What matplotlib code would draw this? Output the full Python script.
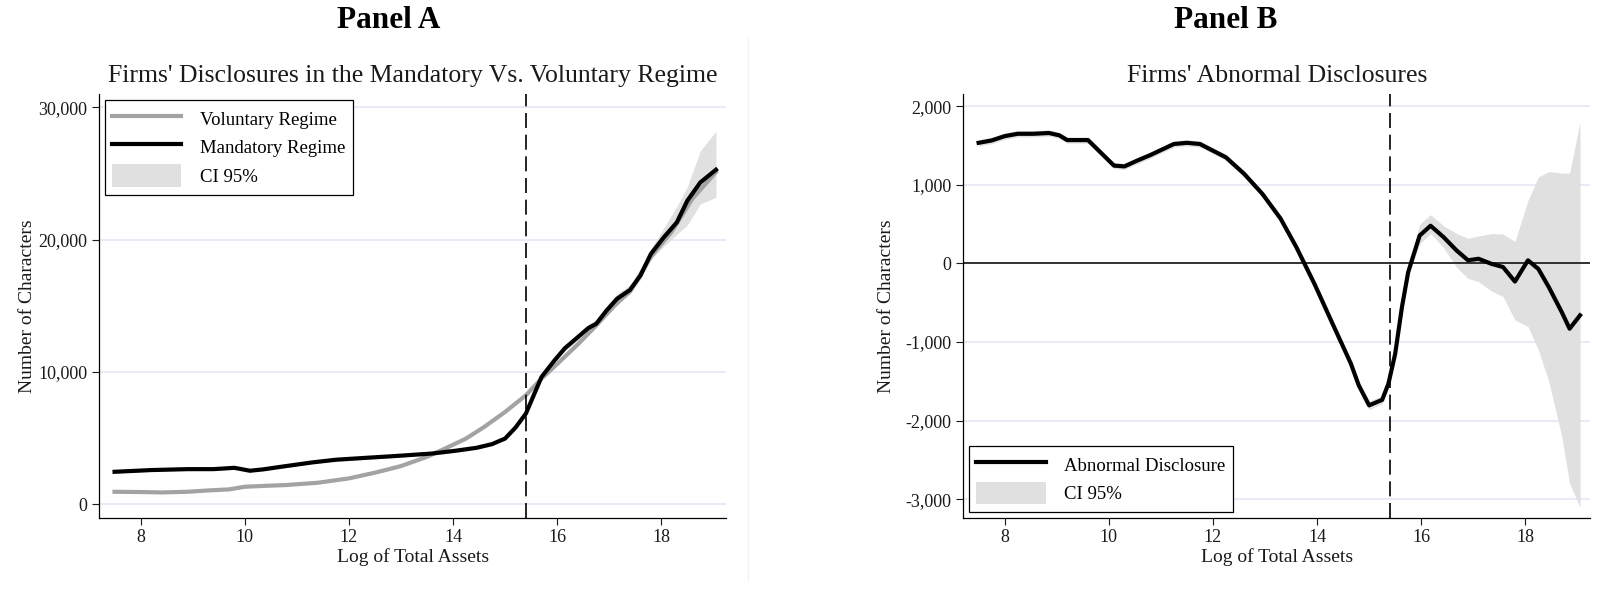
import matplotlib
matplotlib.use("Agg")
import matplotlib.pyplot as plt
from matplotlib.ticker import FuncFormatter
from matplotlib.lines import Line2D
from matplotlib.patches import Patch

plt.rcParams['font.family'] = ['Liberation Serif', 'DejaVu Serif']

# ---------------- Panel A data ----------------
vol_x = [7.5, 8.0, 8.4, 8.9, 9.3, 9.7, 10.0, 10.4, 10.8, 11.4, 12.0, 12.5, 13.0, 13.5,
         13.85, 14.25, 14.6, 15.0, 15.4, 15.7, 16.0, 16.4, 16.7, 17.1, 17.4, 17.8, 18.2,
         18.6, 19.05]
vol_y = [950, 930, 900, 950, 1050, 1130, 1330, 1400, 1460, 1630, 1960, 2390, 2890, 3590,
         4220, 4970, 5850, 6980, 8240, 9500, 10600, 12100, 13300, 15000, 16100, 18700, 20600,
         23100, 25100]

man_x = [7.5, 8.2, 8.9, 9.4, 9.8, 10.1, 10.35, 10.7, 11.3, 11.75, 12.35, 12.85, 13.6, 14.05,
         14.45, 14.75, 15.0, 15.2, 15.4, 15.55, 15.7, 15.95, 16.15, 16.4, 16.6, 16.75, 16.95,
         17.15, 17.4, 17.6, 17.8, 18.05, 18.3, 18.5, 18.75, 19.05]
man_y = [2460, 2590, 2660, 2660, 2760, 2540, 2640, 2840, 3170, 3370, 3520, 3640, 3840, 4050,
         4270, 4550, 4970, 5800, 6860, 8240, 9620, 10880, 11800, 12640, 13320, 13640, 14650,
         15530, 16200, 17290, 18920, 20180, 21310, 22940, 24320, 25280]
man_lo = [2360, 2490, 2560, 2560, 2660, 2440, 2540, 2740, 3070, 3270, 3420, 3540, 3740, 3950,
          4170, 4450, 4870, 5700, 6760, 8140, 9500, 10700, 11600, 12400, 13050, 13350, 14350,
          15200, 15850, 17000, 18500, 19500, 20400, 21100, 22700, 23200]
man_hi = [2560, 2690, 2760, 2760, 2860, 2640, 2740, 2940, 3270, 3470, 3620, 3740, 3940, 4150,
          4370, 4650, 5070, 5900, 6960, 8340, 9740, 11050, 12000, 12900, 13600, 13950, 14950,
          15900, 16600, 17600, 19300, 20900, 22500, 24000, 26700, 28200]

# ---------------- Panel B data ----------------
ab_x = [7.5, 7.75, 8.0, 8.25, 8.55, 8.85, 9.05, 9.2, 9.6, 9.9, 10.1, 10.3, 10.55, 10.8,
        11.25, 11.5, 11.75, 12.0, 12.25, 12.6, 12.95, 13.3, 13.6, 13.95, 14.3, 14.65, 14.8,
        15.0, 15.25, 15.37, 15.5, 15.63, 15.75, 15.97, 16.18, 16.43, 16.68, 16.9, 17.1,
        17.35, 17.57, 17.8, 18.05, 18.25, 18.45, 18.7, 18.85, 19.05]
ab_y = [1535, 1565, 1620, 1650, 1650, 1660, 1630, 1570, 1570, 1375, 1245, 1235, 1310, 1380,
        1520, 1535, 1520, 1435, 1350, 1140, 885, 570, 210, -260, -770, -1275, -1550,
        -1805, -1735, -1530, -1150, -555, -110, 355, 480, 335, 165, 40, 60,
        -5, -45, -230, 40, -70, -300, -620, -830, -660]
ab_lo = [1495, 1525, 1580, 1610, 1610, 1620, 1590, 1530, 1530, 1335, 1205, 1195, 1270, 1340,
         1480, 1495, 1480, 1395, 1310, 1100, 845, 530, 170, -300, -810, -1315, -1600,
         -1860, -1785, -1580, -1200, -605, -160, 250, 380, 200, -50, -190, -230,
         -350, -420, -720, -800, -1100, -1500, -2200, -2800, -3100]
ab_hi = [1575, 1605, 1660, 1690, 1690, 1700, 1670, 1610, 1610, 1415, 1285, 1275, 1350, 1420,
         1560, 1575, 1560, 1475, 1390, 1180, 925, 610, 250, -220, -730, -1235, -1500,
         -1750, -1685, -1480, -1100, -505, -60, 500, 620, 480, 380, 320, 350,
         380, 375, 280, 800, 1100, 1170, 1150, 1150, 1800]

x_ticks = [8, 10, 12, 14, 16, 18]
a_yticks = [0, 10000, 20000, 30000]
b_yticks = [-3000, -2000, -1000, 0, 1000, 2000]
threshold = 15.4

GRID = '#e2e5f3'
CI = '#e0e0e0'
VOL = '#a3a3a3'
TXT = '#1a1a1a'

fig = plt.figure(figsize=(16.01, 5.92), dpi=100)
axA = fig.add_axes([0.0618, 0.1257, 0.3919, 0.7155])
axB = fig.add_axes([0.6015, 0.1257, 0.3919, 0.7155])

fmt = FuncFormatter(lambda v, p: f"{int(v):,}")

for ax in (axA, axB):
    ax.set_xlim(7.2, 19.25)
    ax.set_xticks(x_ticks)
    ax.yaxis.set_major_formatter(fmt)
    ax.spines['top'].set_visible(False)
    ax.spines['right'].set_visible(False)
    ax.spines['left'].set_linewidth(0.9)
    ax.spines['bottom'].set_linewidth(0.9)
    ax.tick_params(direction='out', length=5, width=0.8, labelsize=13, colors=TXT)
    ax.grid(axis='y', color=GRID, linewidth=1.1)
    ax.set_axisbelow(True)
    ax.set_xlabel('Log of Total Assets', fontsize=14, color=TXT, labelpad=1)
    ax.set_ylabel('Number of Characters', fontsize=14, color=TXT)

axA.yaxis.set_label_coords(-0.101, 0.5)
axB.yaxis.set_label_coords(-0.1085, 0.5)

leg_kw = dict(fontsize=13.5, handlelength=3.7, handleheight=1.5, fancybox=False,
              edgecolor='black', framealpha=1, borderaxespad=0.3, labelspacing=0.3,
              handletextpad=1.0)

# Panel A
axA.set_ylim(-1000, 31000)
axA.set_yticks(a_yticks)
axA.fill_between(man_x, man_lo, man_hi, color=CI, linewidth=0, zorder=1)
axA.plot(vol_x, vol_y, color=VOL, lw=3, zorder=2)
axA.plot(man_x, man_y, color='black', lw=3, zorder=3)
axA.axvline(threshold, color='black', lw=1.2, dashes=(9, 4), zorder=4)
axA.set_title("Firms' Disclosures in the Mandatory Vs. Voluntary Regime", fontsize=18.5,
              pad=9, color=TXT)
hA = [Line2D([], [], color=VOL, lw=3), Line2D([], [], color='black', lw=3),
      Patch(facecolor=CI, edgecolor='none')]
legA = axA.legend(hA, ['Voluntary Regime', 'Mandatory Regime', 'CI 95%'], loc='upper left',
                  **leg_kw)
legA.get_frame().set_linewidth(0.9)

# Panel B
axB.set_ylim(-3233, 2156)
axB.set_yticks(b_yticks)
axB.fill_between(ab_x, ab_lo, ab_hi, color=CI, linewidth=0, zorder=1)
axB.axhline(0, color='black', lw=1.1, zorder=2)
axB.plot(ab_x, ab_y, color='black', lw=3, zorder=3)
axB.axvline(threshold, color='black', lw=1.2, dashes=(9, 4), zorder=4)
axB.set_title("Firms' Abnormal Disclosures", fontsize=18.5, pad=9, color=TXT)
hB = [Line2D([], [], color='black', lw=3), Patch(facecolor=CI, edgecolor='none')]
legB = axB.legend(hB, ['Abnormal Disclosure', 'CI 95%'], loc='lower left', **leg_kw)
legB.get_frame().set_linewidth(0.9)

fig.text(0.2425, 0.965, 'Panel A', ha='center', va='center', fontsize=22.5, fontweight='bold')
fig.text(0.7655, 0.965, 'Panel B', ha='center', va='center', fontsize=22.5, fontweight='bold')
fig.add_artist(Line2D([0.467, 0.467], [0.02, 0.935], transform=fig.transFigure,
                      color='#f2f2f2', lw=1))

fig.savefig('out.png', dpi=100)
